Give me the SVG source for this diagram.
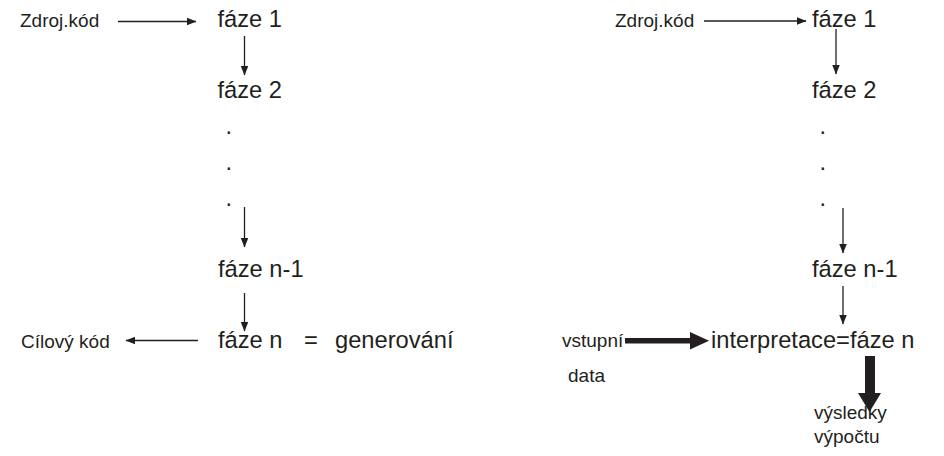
<svg xmlns="http://www.w3.org/2000/svg" width="944" height="456" viewBox="0 0 944 456">
<style>
  text { font-family: "Liberation Sans", Arial, sans-serif; fill: #231f20; }
  .big { font-size: 23.7px; }
  .small { font-size: 19px; }
  .conn { stroke: #231f20; stroke-width: 1.3; fill: none; marker-end: url(#ah); }
  .thick { fill: #231f20; stroke: none; }
</style>
<defs>
  <marker id="ah" markerUnits="userSpaceOnUse" markerWidth="10" markerHeight="8" refX="9" refY="3.75" orient="auto">
    <path d="M0,0 L9.5,3.75 L0,7.5 z" fill="#231f20"/>
  </marker>
</defs>
<rect width="944" height="456" fill="#ffffff"/>

<!-- Left diagram -->
<g id="l-zdroj"><text class="small" x="20" y="26.5">Zdroj.kód</text></g>
<g id="l-faze1"><text class="big" x="217.5" y="26.5">fáze 1</text></g>
<g id="l-faze2"><text class="big" x="217.5" y="97.5">fáze 2</text></g>
<g id="l-dots">
  <text class="big" x="225.5" y="133.5">.</text>
  <text class="big" x="225.5" y="169.5">.</text>
  <text class="big" x="225.5" y="205.5">.</text>
</g>
<g id="l-fazen1"><text class="big" x="218" y="276.5">fáze n-1</text></g>
<g id="l-fazen">
  <text class="big" x="218" y="347.5">fáze n</text>
  <text class="big" x="304" y="347.5">=</text>
  <text class="big" x="335" y="347.5">generování</text>
</g>
<g id="l-cilovy"><text class="small" x="21" y="347.5">Cílový kód</text></g>

<!-- Right diagram -->
<g id="r-zdroj"><text class="small" x="615" y="26.5">Zdroj.kód</text></g>
<g id="r-faze1"><text class="big" x="812" y="26.5">fáze 1</text></g>
<g id="r-faze2"><text class="big" x="812" y="97.5">fáze 2</text></g>
<g id="r-dots">
  <text class="big" x="819.5" y="133.5">.</text>
  <text class="big" x="819.5" y="169.5">.</text>
  <text class="big" x="819.5" y="205.5">.</text>
</g>
<g id="r-fazen1"><text class="big" x="812" y="276.5">fáze n-1</text></g>
<g id="r-interp"><text class="big" x="711" y="348">interpretace=fáze n</text></g>
<g id="r-vstup">
  <text class="small" x="562" y="347">vstupní</text>
  <text class="small" x="568" y="382">data</text>
</g>
<g id="r-vysledky">
  <text class="small" x="814" y="418.5">výsledky</text>
  <text class="small" x="814" y="443">výpočtu</text>
</g>

<!-- Connectors -->
<g id="connectors">
  <line class="conn" x1="118" y1="21.5" x2="196" y2="21.5"/>
  <line class="conn" x1="244.5" y1="36" x2="244.5" y2="75"/>
  <line class="conn" x1="244.5" y1="207" x2="244.5" y2="247"/>
  <line class="conn" x1="244.5" y1="293" x2="244.5" y2="331"/>
  <line class="conn" x1="198" y1="340.5" x2="126" y2="340.5"/>

  <line class="conn" x1="704" y1="21" x2="806" y2="21"/>
  <line class="conn" x1="836" y1="29" x2="836" y2="74"/>
  <line class="conn" x1="843" y1="208" x2="843" y2="253"/>
  <line class="conn" x1="843" y1="286" x2="843" y2="324"/>

  <rect class="thick" x="625" y="338" width="66" height="5.5"/>
  <polygon class="thick" points="690,332 709,340.7 690,349.5"/>
  <rect class="thick" x="865" y="356" width="10" height="38"/>
  <polygon class="thick" points="858,393 881,393 869.5,412"/>
</g>
</svg>
